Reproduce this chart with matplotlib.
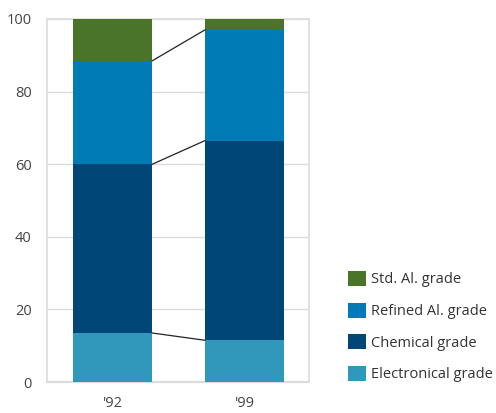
import numpy as np
import matplotlib.pyplot as plt

years = ["'92", "'99"]
grades = ["Electronical grade", "Chemical grade", "Refined Al. grade", "Std. Al. grade"]
electronical = [13.5, 11.5]
chemical = [46.5, 55.0]
refined = [28.5, 30.5]
std_al = [11.5, 3.0]
colors = ["#3198bc", "#004677", "#007bb5", "#4a742a"]

plt.rcParams['font.family'] = ['Open Sans', 'DejaVu Sans']

fig = plt.figure(figsize=(4.96, 4.13), dpi=100)
ax = fig.add_axes([0.0948, 0.075, 0.528, 0.879])

x = np.arange(len(years))
width = 0.6
series = [electronical, chemical, refined, std_al]
bottom = np.zeros(len(years))
handles = []
tops = []
for vals, c, name in zip(series, colors, grades):
    b = ax.bar(x, vals, width, bottom=bottom, color=c, label=name, zorder=3)
    handles.append(b)
    bottom = bottom + np.array(vals)
    tops.append(bottom.copy())

# connector lines between the segment boundaries
for t in tops[:-1]:
    ax.plot([x[0] + width / 2, x[1] - width / 2], [t[0], t[1]],
            color="#222222", lw=0.9, zorder=4)

ax.set_ylim(0, 100)
ax.set_xlim(-0.5, 1.49)
ax.set_yticks(np.arange(0, 101, 20))
ax.set_xticks(x)
ax.set_xticklabels(years)
ax.yaxis.grid(True, color="#dcdcdc", lw=1, zorder=0)
ax.tick_params(axis='y', length=0, pad=11, labelsize=10.5, labelcolor="#444444")
ax.tick_params(axis='x', length=0, pad=10, labelsize=10.5, labelcolor="#444444")
for s in ax.spines.values():
    s.set_color("#dcdcdc")
    s.set_linewidth(1.2)
ax.spines['bottom'].set_linewidth(1.6)

fig.legend(handles[::-1], grades[::-1], loc='lower left',
           bbox_to_anchor=(0.69, 0.06), frameon=False,
           handlelength=1.2, handleheight=1.2, handletextpad=0.35,
           labelspacing=1.05, fontsize=10.5, labelcolor="#333333",
           borderaxespad=0)

fig.savefig("out.png", dpi=100)
